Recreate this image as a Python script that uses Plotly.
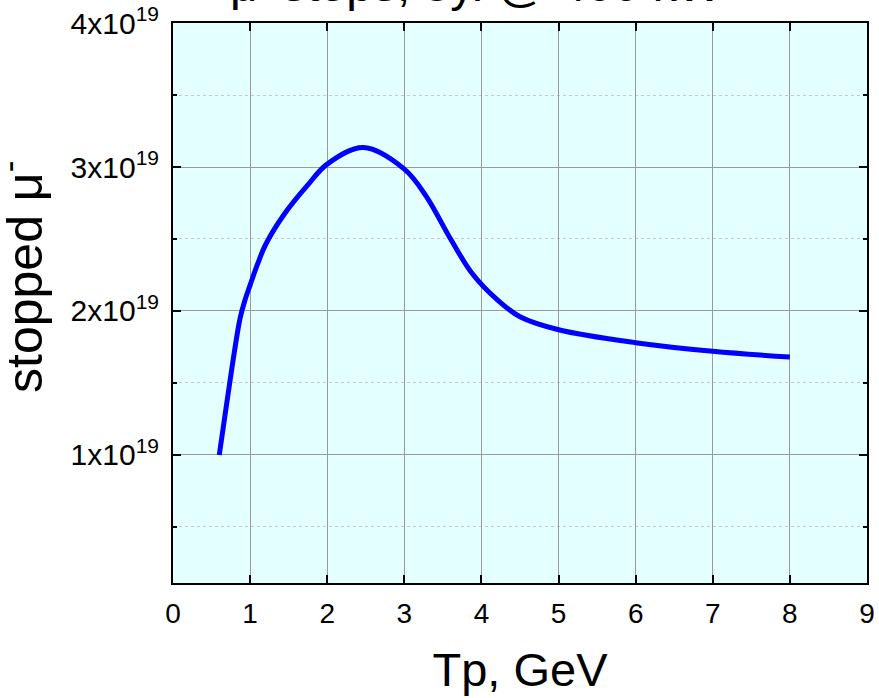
import plotly.graph_objects as go

# Data (Tp in GeV, stopped muons in units of 1e19)
tp = [0.6, 0.7, 0.8, 0.87, 0.93, 1.0, 1.1, 1.2, 1.44, 1.74, 2.0, 2.47, 3.0, 3.28, 3.6, 3.88, 4.2, 4.5, 5.0, 6.0, 7.0, 8.0]
stopped_e19 = [1.0, 1.37, 1.73, 1.95, 2.07, 2.18, 2.33, 2.46, 2.67, 2.87, 3.02, 3.135, 2.985, 2.80, 2.5, 2.26, 2.08, 1.96, 1.87, 1.78, 1.72, 1.68]
stopped = [v * 1e19 for v in stopped_e19]

x_ticks = [0, 1, 2, 3, 4, 5, 6, 7, 8, 9]
y_tickvals = [1e19, 2e19, 3e19, 4e19]
y_ticktext = ["1x10<sup>19</sup>", "2x10<sup>19</sup>", "3x10<sup>19</sup>", "4x10<sup>19</sup>"]

FONT = "Liberation Sans, Arial, sans-serif"

fig = go.Figure()
fig.add_trace(go.Scatter(x=tp, y=stopped, mode="lines",
                         line=dict(color="#0000FF", width=5, shape="spline", smoothing=1.0),
                         showlegend=False))

fig.update_layout(
    width=879, height=698,
    margin=dict(l=173, r=12, t=23, b=115),
    paper_bgcolor="white",
    plot_bgcolor="#E4FFFF",
    font=dict(family=FONT, color="black"),
    xaxis=dict(
        range=[0, 9], tickvals=x_ticks, ticks="inside", ticklen=8, tickwidth=1.5,
        tickcolor="black", showline=True, linecolor="black", linewidth=2, mirror="ticks",
        showgrid=True, gridcolor="#9a9a9a", gridwidth=1, zeroline=False,
        tickfont=dict(size=28), ticklabelstandoff=4, automargin=False,
        title=dict(text="Tp, GeV", font=dict(size=47), standoff=26),
    ),
    yaxis=dict(
        range=[0.111e19, 4e19], tickvals=y_tickvals, ticktext=y_ticktext,
        ticks="inside", ticklen=8, tickwidth=1.5, tickcolor="black",
        showline=True, linecolor="black", linewidth=2, mirror="ticks",
        showgrid=True, gridcolor="#9a9a9a", gridwidth=1, zeroline=False,
        tickfont=dict(size=30), ticklabelstandoff=6, automargin=False,
        minor=dict(tickvals=[0.5e19, 1.5e19, 2.5e19, 3.5e19], ticks="inside", ticklen=4,
                   tickcolor="black", tickwidth=1.5, showgrid=True, gridcolor="#c8c8c8",
                   griddash="dot", gridwidth=1),
    ),
    annotations=[
        dict(text="stopped μ<sup>-</sup>", xref="paper", yref="paper", x=-0.218, y=0.546,
             xanchor="center", yanchor="middle", textangle=-90, showarrow=False,
             font=dict(size=50)),
        dict(text="μ<sup>-</sup> stops, 3y. @ 400 kW", xref="paper", yref="paper", x=0.438, y=1,
             xanchor="center", yanchor="bottom", yshift=10, showarrow=False,
             font=dict(size=48)),
    ],
)

fig.write_html("out.html", config={"displayModeBar": False},
               post_script="document.body.style.margin='0px';")
